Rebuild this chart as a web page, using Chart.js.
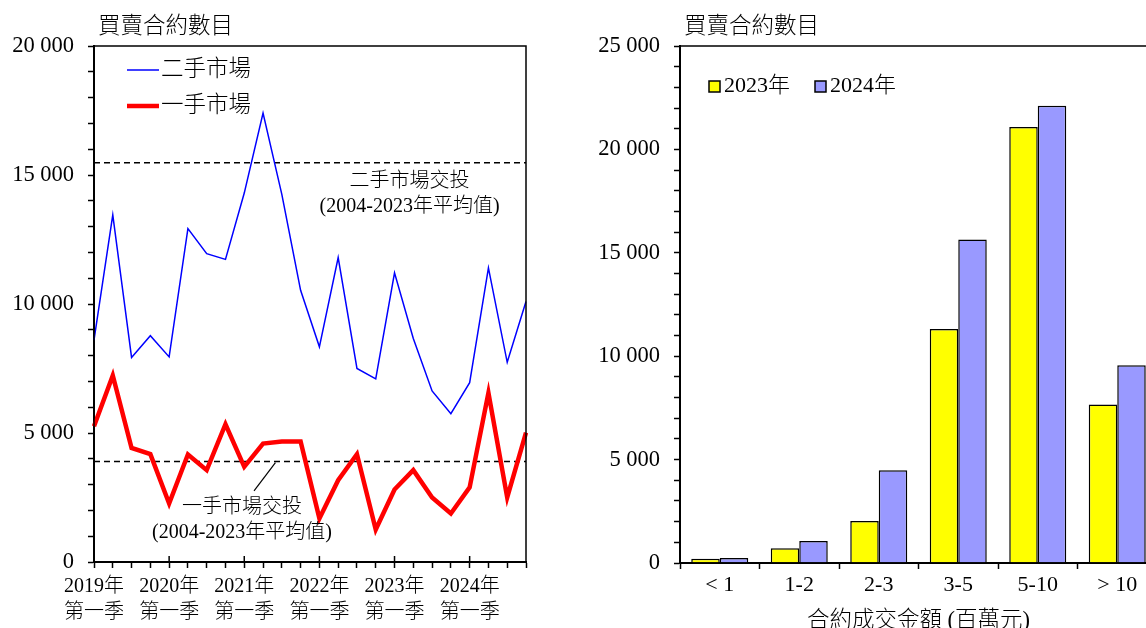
<!DOCTYPE html>
<html>
<head>
<meta charset="utf-8">
<script src="https://cdn.jsdelivr.net/npm/chart.js@4.4.1/dist/chart.umd.min.js"></script>
<style>
  html, body { margin: 0; padding: 0; background: #fff; overflow: hidden; width: 1146px; height: 628px; }
  canvas { position: absolute; top: 0; }
  #lineChart { left: 0; }
  #barChart { left: 560px; }
</style>
</head>
<body>
<canvas id="lineChart" width="545" height="640"></canvas>
<canvas id="barChart" width="620" height="640"></canvas>
<script>
// left chart: quarterly sale & purchase agreements
const quarters = [
  '2019Q1', '2019Q2', '2019Q3', '2019Q4',
  '2020Q1', '2020Q2', '2020Q3', '2020Q4',
  '2021Q1', '2021Q2', '2021Q3', '2021Q4',
  '2022Q1', '2022Q2', '2022Q3', '2022Q4',
  '2023Q1', '2023Q2', '2023Q3', '2023Q4',
  '2024Q1', '2024Q2', '2024Q3', '2024Q4'
];
const yearTickLabels = [
  ['2019年', '第一季'], ['2020年', '第一季'], ['2021年', '第一季'],
  ['2022年', '第一季'], ['2023年', '第一季'], ['2024年', '第一季']
];
const secondaryMarket = [8600, 13450, 7930, 8770, 7950, 12920, 11950, 11730, 14300, 17400, 14250, 10530,
  8340, 11800, 7500, 7100, 11210, 8660, 6630, 5750, 6950, 11400, 7740, 10100];
const primaryMarket = [5260, 7230, 4420, 4180, 2270, 4170, 3560, 5340, 3690, 4590, 4670, 4670,
  1690, 3170, 4180, 1260, 2810, 3560, 2500, 1880, 2890, 6560, 2500, 5010];
const secondaryAvg = 15470;
const primaryAvg = 3900;

// right chart: agreements by consideration
const valueBands = ['< 1', '1-2', '2-3', '3-5', '5-10', '> 10'];
const contracts2023 = [210, 710, 2030, 11320, 21080, 7660];
const contracts2024 = [240, 1065, 4480, 15640, 22110, 9560];

const FONT = "'Liberation Serif', 'Noto Sans CJK TC', serif";
const W = 300;
const fmt = v => String(v).replace(/\B(?=(\d{3})+(?!\d))/g, ' ');

const axisGrid = { drawOnChartArea: false, tickLength: 6, tickColor: '#000', tickWidth: 1.5 };
const axisBorder = { color: '#000', width: 2 };

function drawFrame(chart) {
  const { ctx, chartArea: a } = chart;
  ctx.save();
  ctx.strokeStyle = '#000';
  ctx.lineWidth = 1.5;
  ctx.strokeRect(a.left, a.top, a.right - a.left, a.bottom - a.top);
  ctx.restore();
}

function drawYTitle(chart, text) {
  const { ctx, chartArea: a } = chart;
  ctx.save();
  ctx.font = W + ' 22.5px ' + FONT;
  ctx.fillStyle = '#000';
  ctx.textBaseline = 'middle';
  ctx.fillText(text, a.left + 4, a.top - 19);
  ctx.restore();
}

const lineNotes = [
  { x: 16.8, y: 14740, lines: ['二手市場交投', '(2004-2023年平均值)'] },
  { x: 7.88, y: 2090, lines: ['一手市場交投', '(2004-2023年平均值)'] }
];
const leader = [[9.66, 3850], [8.52, 2760]];

const lineExtras = {
  id: 'lineExtras',
  beforeDatasetsDraw(chart) {
    const { ctx, chartArea: a, scales: { y } } = chart;
    ctx.save();
    ctx.strokeStyle = '#000';
    ctx.lineWidth = 1.5;
    ctx.setLineDash([6, 4]);
    [secondaryAvg, primaryAvg].forEach(v => {
      const py = y.getPixelForValue(v);
      ctx.beginPath();
      ctx.moveTo(a.left, py);
      ctx.lineTo(a.right, py);
      ctx.stroke();
    });
    ctx.restore();
  },
  afterDraw(chart) {
    const { ctx, chartArea: a, scales: { x, y } } = chart;
    drawFrame(chart);
    ctx.save();
    // year ticks also poke up into the plot
    ctx.strokeStyle = '#000';
    ctx.lineWidth = 1.5;
    for (let i = 4; i < quarters.length; i += 4) {
      const px = x.getPixelForValue(i);
      ctx.beginPath();
      ctx.moveTo(px, a.bottom - 6);
      ctx.lineTo(px, a.bottom);
      ctx.stroke();
    }
    // leader line
    ctx.lineWidth = 1.2;
    ctx.beginPath();
    ctx.moveTo(x.getPixelForValue(leader[0][0]), y.getPixelForValue(leader[0][1]));
    ctx.lineTo(x.getPixelForValue(leader[1][0]), y.getPixelForValue(leader[1][1]));
    ctx.stroke();
    // notes
    ctx.fillStyle = '#000';
    ctx.font = W + ' 20px ' + FONT;
    ctx.textAlign = 'center';
    ctx.textBaseline = 'middle';
    lineNotes.forEach(n => {
      const px = x.getPixelForValue(n.x);
      const py = y.getPixelForValue(n.y);
      n.lines.forEach((t, i) => ctx.fillText(t, px, py + i * 25));
    });
    // legend
    ctx.textAlign = 'left';
    ctx.font = W + ' 22.5px ' + FONT;
    chart.data.datasets.forEach((ds, i) => {
      const ly = a.top + 24 + i * 36;
      ctx.strokeStyle = ds.borderColor;
      ctx.lineWidth = ds.borderWidth;
      ctx.beginPath();
      ctx.moveTo(a.left + 33, ly);
      ctx.lineTo(a.left + 65, ly);
      ctx.stroke();
      ctx.fillText(ds.label, a.left + 67, ly);
    });
    ctx.restore();
    drawYTitle(chart, '買賣合約數目');
  }
};

const barExtras = {
  id: 'barExtras',
  afterDraw(chart) {
    const { ctx, chartArea: a } = chart;
    drawFrame(chart);
    ctx.save();
    ctx.font = W + ' 22px ' + FONT;
    ctx.textBaseline = 'middle';
    chart.data.datasets.forEach((ds, i) => {
      const bx = a.left + 29 + i * 106;
      const by = a.top + 35;
      ctx.fillStyle = ds.backgroundColor;
      ctx.fillRect(bx, by, 11, 11);
      ctx.strokeStyle = '#000';
      ctx.lineWidth = 1.5;
      ctx.strokeRect(bx, by, 11, 11);
      ctx.fillStyle = '#000';
      ctx.fillText(ds.label, bx + 15, by + 5.5);
    });
    ctx.restore();
    drawYTitle(chart, '買賣合約數目');
  }
};

new Chart(document.getElementById('lineChart'), {
  type: 'line',
  data: {
    labels: quarters,
    datasets: [
      { label: '二手市場', data: secondaryMarket, borderColor: '#0000ff', borderWidth: 1.5, pointRadius: 0, tension: 0 },
      { label: '一手市場', data: primaryMarket, borderColor: '#ff0000', borderWidth: 4.5, pointRadius: 0, tension: 0 }
    ]
  },
  options: {
    responsive: false,
    animation: false,
    events: [],
    layout: { padding: { top: 46, right: 19, left: 0, bottom: 0 } },
    plugins: { legend: { display: false }, tooltip: { enabled: false } },
    scales: {
      x: {
        grid: axisGrid,
        border: axisBorder,
        ticks: {
          autoSkip: false, maxRotation: 0, padding: 6, color: '#000',
          font: { family: FONT, size: 20, weight: W, lineHeight: 1.3 },
          callback: (v, i) => (i % 4 === 0 ? yearTickLabels[i / 4] : '')
        },
        afterFit: s => { s.height = 78; }
      },
      y: {
        min: 0, max: 20000,
        grid: axisGrid,
        border: axisBorder,
        ticks: {
          stepSize: 1000, autoSkip: false, padding: 14, color: '#000',
          font: { family: FONT, size: 22.5, weight: W },
          callback: v => (v % 5000 === 0 ? fmt(v) : '')
        },
        afterFit: s => { s.width = 94; }
      }
    }
  },
  plugins: [lineExtras]
});

new Chart(document.getElementById('barChart'), {
  type: 'bar',
  data: {
    labels: valueBands,
    datasets: [
      { label: '2023年', data: contracts2023, backgroundColor: '#ffff00', borderColor: '#000', borderWidth: 1.5 },
      { label: '2024年', data: contracts2024, backgroundColor: '#9999ff', borderColor: '#000', borderWidth: 1.5 }
    ]
  },
  options: {
    responsive: false,
    animation: false,
    events: [],
    categoryPercentage: 0.717,
    barPercentage: 1,
    layout: { padding: { top: 46, right: 23, left: 0, bottom: 0 } },
    plugins: { legend: { display: false }, tooltip: { enabled: false } },
    scales: {
      x: {
        grid: axisGrid,
        border: axisBorder,
        ticks: { autoSkip: false, maxRotation: 0, padding: 3, color: '#000', font: { family: FONT, size: 22, weight: W } },
        title: {
          display: true, text: '合約成交金額 (百萬元)', color: '#000',
          font: { family: FONT, size: 22.5, weight: W }, padding: { top: 0, bottom: 5 }
        },
        afterFit: s => { s.height = 77; }
      },
      y: {
        min: 0, max: 25000,
        grid: axisGrid,
        border: axisBorder,
        ticks: {
          stepSize: 1000, autoSkip: false, padding: 14, color: '#000',
          font: { family: FONT, size: 22.5, weight: W },
          callback: v => (v % 5000 === 0 ? fmt(v) : '')
        },
        afterFit: s => { s.width = 120; }
      }
    }
  },
  plugins: [barExtras]
});
</script>
</body>
</html>
